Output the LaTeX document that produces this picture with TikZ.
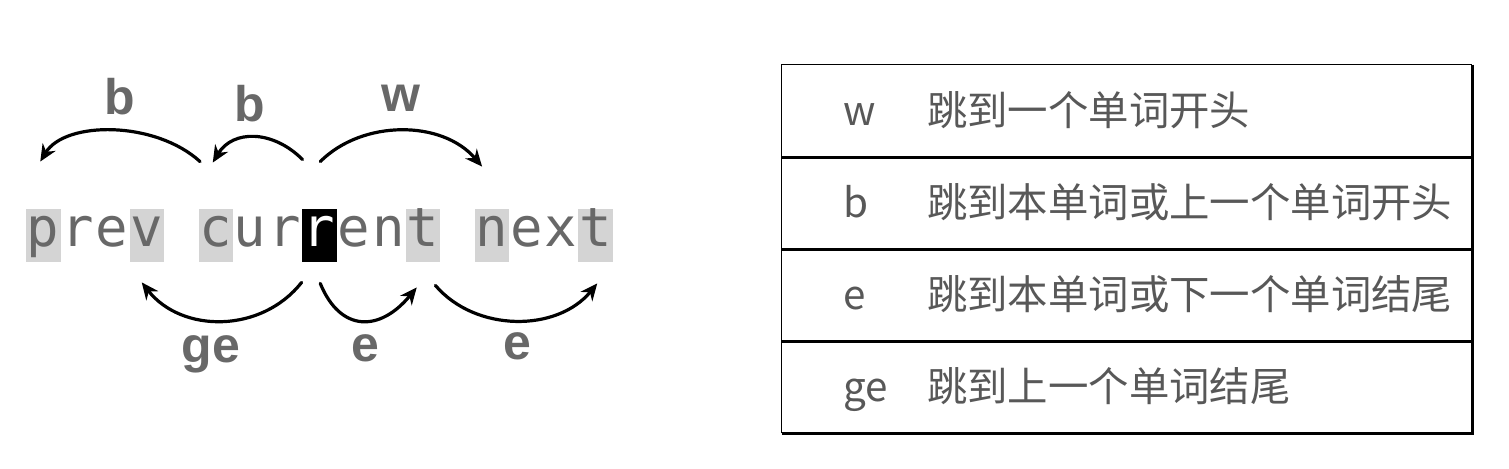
\documentclass[tikz,border=0pt]{standalone}
\usepackage{fontspec}
\usepackage{tikz}
\usetikzlibrary{arrows.meta,calc}
\newfontfamily\vimmono{DejaVu Sans Mono}
\newfontfamily\vimsans{Liberation Sans}
\newfontfamily\vimcjk{Noto Sans CJK SC}
\definecolor{vimtext}{RGB}{104,104,104}
\definecolor{vimhl}{RGB}{212,212,212}
\definecolor{vimdesc}{RGB}{88,88,88}
\tikzset{
  chr/.style={inner sep=0pt, minimum width=17.25pt, text height=19pt, text depth=7.5pt,
    font=\vimmono\fontsize{27}{30}\selectfont, text=vimtext},
  chrhl/.style={chr, fill=vimhl},
  chrcur/.style={chr, fill=black, text=white},
  motion/.style={font=\vimsans\bfseries\fontsize{25}{30}\selectfont, text=vimtext,
    anchor=base, inner sep=0pt},
  jump/.style={-{Stealth[length=8.5pt,width=7.5pt]}, line width=1.6pt, black, line cap=round},
  rowbox/.style={minimum width=345pt, minimum height=46pt, inner sep=0pt},
  keytext/.style={font=\vimcjk\fontsize{20.2}{24}\selectfont, text=vimdesc,
    anchor=base west, inner sep=0pt},
  tblthin/.style={line width=0.8pt, black},
  tblthick/.style={line width=1.5pt, black},
  tblline/.style={line width=1.3pt, black}
}
\begin{document}
\begin{tikzpicture}[x=0.5pt,y=-0.5pt]
  \useasboundingbox (0,0) rectangle (1509,469);
  % the text line, one cell per character
  \foreach \ch/\i/\sty in {p/0/chrhl, r/1/chr, e/2/chr, v/3/chrhl, c/5/chrhl, u/6/chr, r/7/chr,
      r/8/chrcur, e/9/chr, n/10/chr, t/11/chrhl, n/13/chrhl, e/14/chr, x/15/chr, t/16/chrhl}
    \node[\sty] (c\i) at ({43.25+34.5*\i},235.5) {\ch};

  % motions above
  \draw[jump] ($(c5.north west)+(2,-47)$) .. controls +(-45,-41) and +(25,-41) .. ($(c0.north)+(-3,-47)$);
  \draw[jump] ($(c8.north west)+(1,-49)$) .. controls +(-30,-30) and +(20,-33) .. ($(c5.north)+(-3,-46)$);
  \draw[jump] ($(c8.north)+(1,-47)$) .. controls +(42,-42) and +(-40,-47) .. ($(c13.north west)+(8,-42)$);
  \node[motion] (bbig) at (120,115) {b};
  \node[motion] (bsmall) at (250,122) {b};
  \node[motion] (wnext) at (401,112) {w};

  % motions below
  \draw[jump] ($(c8.south west)+(0,20)$) .. controls +(-40,51) and +(40,51) .. ($(c3.south)+(-5,20)$);
  \draw[jump] ($(c8.south)+(1,21)$) .. controls +(20,49) and +(-37,45) .. ($(c11.south)+(-6,25)$);
  \draw[jump] ($(c11.south east)+(-5,23)$) .. controls +(40,47) and +(-40,49) .. ($(c16.south)+(2,21)$);
  \node[motion] (geprev) at (211,363) {ge};
  \node[motion] (ecur) at (365,362) {e};
  \node[motion] (enext) at (517,360) {e};

  % table
  \node[rowbox] (row1) at (1127,111) {};
  \node[rowbox] (row2) at (1127,203) {};
  \node[rowbox] (row3) at (1127,295) {};
  \node[rowbox] (row4) at (1127,387) {};
  \draw[tblthin] (row4.south west) -- (row1.north west) -- (row1.north east);
  \draw[tblthick] (row1.north east) -- (row4.south east) -- (row4.south west);
  \foreach \r in {1,2,3}
    \draw[tblline] (row\r.south west) -- (row\r.south east);
  \node[keytext] (k1) at ($(row1.west)+(61,15)$) {w};
  \node[keytext] (d1) at ($(row1.west)+(145,15)$) {跳到一个单词开头};
  \node[keytext] (k2) at ($(row2.west)+(61,15)$) {b};
  \node[keytext] (d2) at ($(row2.west)+(145,15)$) {跳到本单词或上一个单词开头};
  \node[keytext] (k3) at ($(row3.west)+(61,15)$) {e};
  \node[keytext] (d3) at ($(row3.west)+(145,15)$) {跳到本单词或下一个单词结尾};
  \node[keytext] (k4) at ($(row4.west)+(61,15)$) {ge};
  \node[keytext] (d4) at ($(row4.west)+(145,15)$) {跳到上一个单词结尾};
\end{tikzpicture}
\end{document}
